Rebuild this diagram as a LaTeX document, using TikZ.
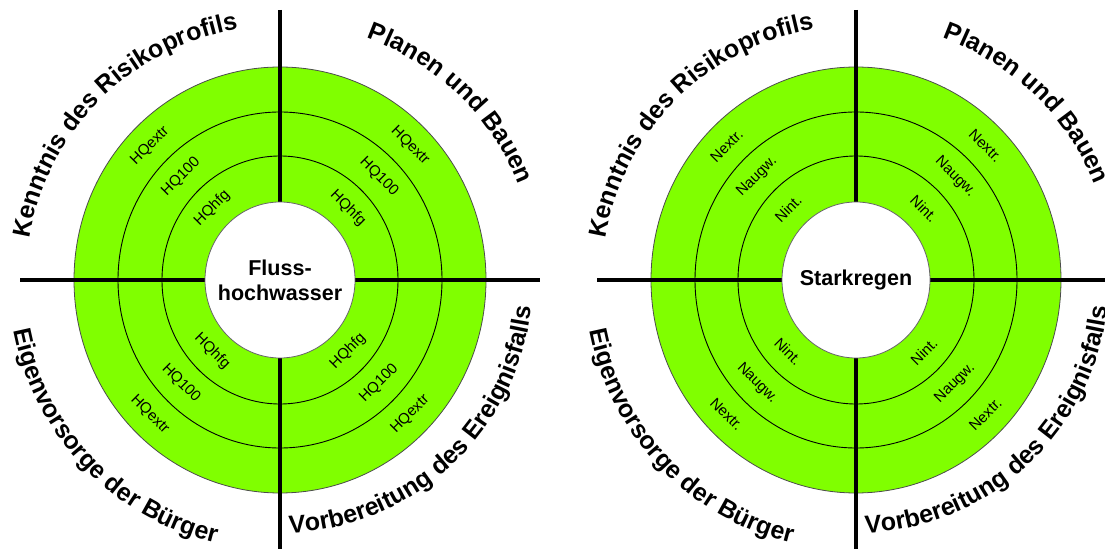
\documentclass[tikz,border=0pt]{standalone}
\usepackage{fontspec}
\setmainfont{Liberation Sans}
\usetikzlibrary{decorations.text}
\definecolor{ringgreen}{RGB}{128,255,0}
\newcommand{\arcfont}{\bfseries\fontsize{25}{30}\selectfont}

\begin{document}
\begin{tikzpicture}[x=1pt,y=1pt,
  band/.style={fill=ringgreen,draw=black!70,line width=0.8pt},
  ringline/.style={draw=black,line width=0.9pt},
  cross/.style={line width=4.5pt},
  disc/.style={fill=white,draw=black!60,line width=0.8pt},
  hub/.style={align=center,inner sep=0pt,font=\bfseries\fontsize{21.5}{25}\selectfont},
  lbl/.style={inner sep=0pt,font=\fontsize{15}{17}\selectfont},
  arctext/.style={decorate,decoration={text along path,text align=center,text={|\arcfont|#1}}}]
\useasboundingbox (0,0) rectangle (1105,549);

% Flusshochwasser
\begin{scope}[shift={(280,269)}]
\path[band] (0,0) ellipse[x radius=206,y radius=213];
\draw[ringline] (0,0) ellipse[x radius=162,y radius=168];
\draw[ringline] (0,0) ellipse[x radius=118,y radius=124];
\draw[cross] (0,270) -- (0,-269);
\draw[cross] (-260,0) -- (260,0);
\path[disc] (0,0) ellipse[x radius=75,y radius=78];
\node[hub] (flood) at (0,0) {Fluss-\\hochwasser};

% ring labels
\foreach \a/\r in {45/-45,135/45,225/-45,315/45} {
  \node[lbl,rotate=\r] (hqx\a) at (\a:184 and 190) {HQextr};
  \node[lbl,rotate=\r] (hqc\a) at (\a:140 and 146) {HQ100};
  \node[lbl,rotate=\r] (hqf\a) at (\a:96 and 101) {HQhfg};
}

% quadrant titles
\path[arctext={Kenntnis des Risikoprofils}] (195:254) arc[start angle=195,end angle=75,radius=254];
\path[arctext={Planen und Bauen}] (106:257) arc[start angle=106,end angle=-14,radius=257];
\path[arctext={Eigenvorsorge der Bürger}] (163.5:271) arc[start angle=163.5,end angle=283.5,radius=271];
\path[arctext={Vorbereitung des Ereignisfalls}] (253:253) arc[start angle=253,end angle=373,radius=253];
\end{scope}

% Starkregen
\begin{scope}[shift={(856,269)}]
\path[band] (0,0) ellipse[x radius=205,y radius=213];
\draw[ringline] (0,0) ellipse[x radius=161,y radius=168];
\draw[ringline] (0,0) ellipse[x radius=118,y radius=124];
\draw[cross] (0,270) -- (0,-269);
\draw[cross] (-259,0) -- (249,0);
\path[disc] (0,0) ellipse[x radius=74,y radius=78];
\node[hub] (rain) at (0,0) {Starkregen};

% ring labels
\foreach \a/\r in {45/-45,135/45,225/-45,315/45} {
  \node[lbl,rotate=\r] (nx\a) at (\a:183 and 190) {Nextr.};
  \node[lbl,rotate=\r] (na\a) at (\a:140 and 146) {Naugw.};
  \node[lbl,rotate=\r] (ni\a) at (\a:96 and 101) {Nint.};
}

% quadrant titles
\path[arctext={Kenntnis des Risikoprofils}] (195:254) arc[start angle=195,end angle=75,radius=254];
\path[arctext={Planen und Bauen}] (106:257) arc[start angle=106,end angle=-14,radius=257];
\path[arctext={Eigenvorsorge der Bürger}] (163.5:271) arc[start angle=163.5,end angle=283.5,radius=271];
\path[arctext={Vorbereitung des Ereignisfalls}] (253:253) arc[start angle=253,end angle=373,radius=253];
\end{scope}
\end{tikzpicture}
\end{document}
